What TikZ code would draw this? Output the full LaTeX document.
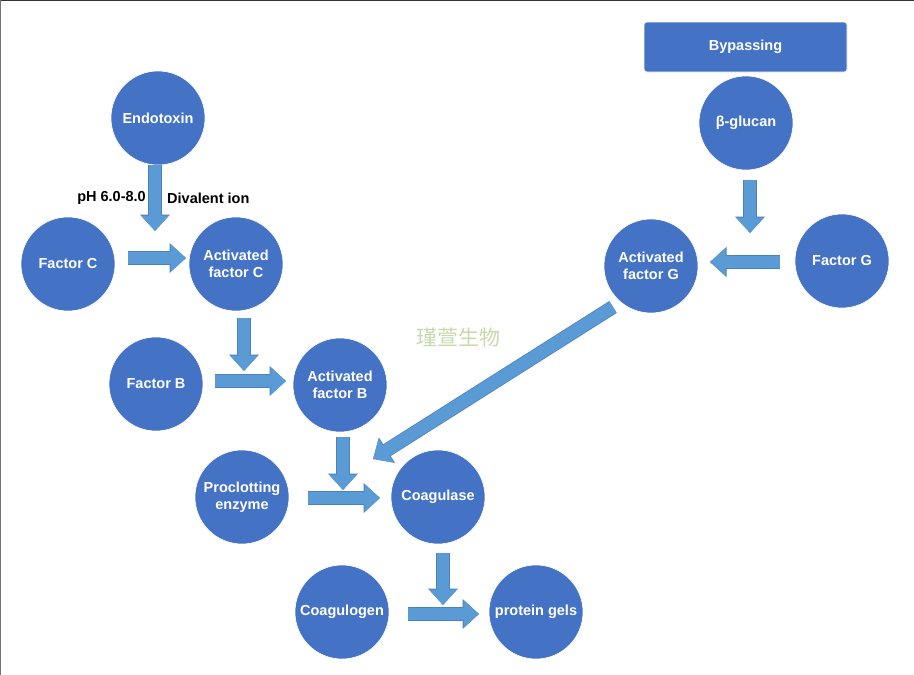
\documentclass[tikz,border=0pt]{standalone}
\usepackage{fontspec}
\setmainfont{Liberation Sans}
\newfontfamily\cjkfont{Noto Sans CJK SC}
\usetikzlibrary{arrows.meta}
\definecolor{circblue}{RGB}{68,114,196}
\definecolor{arrblue}{RGB}{91,155,213}
\definecolor{arredge}{RGB}{75,130,190}
\definecolor{wmgreen}{RGB}{198,218,172}
\begin{document}
\begin{tikzpicture}[x=1pt,y=-1pt,
  bub/.style={circle,fill=circblue,draw=white,line width=0.6pt,minimum size=94pt,inner sep=0pt,text=white,
    font=\bfseries\fontsize{14.5}{17}\selectfont,align=center},
  boxnode/.style={rectangle,rounded corners=3pt,fill=circblue,draw=white,line width=0.6pt,minimum width=203pt,minimum height=50pt,
    text=white,font=\bfseries\fontsize{14.5}{17}\selectfont},
  blkout/.style={line width=14pt,draw=arredge,-{Triangle[length=16.5pt,width=29pt]}},
  blk/.style={line width=12.5pt,draw=arrblue,-{Triangle[length=15.5pt,width=27pt]}},
  lbl/.style={text=black,font=\bfseries\fontsize{14.5}{17}\selectfont,inner sep=0pt}]
\useasboundingbox (0,0) rectangle (914,675);
\fill[white] (0,0) rectangle (914,675);
\draw[line width=2pt,black!80] (0,0) -- (914,0);
\draw[line width=2pt,black!55] (0,0) -- (0,675);

% nodes
\node[bub] (endo) at (158,118) {Endotoxin};
\node[bub] (fc) at (68,264) {Factor C};
\node[bub] (afc) at (236,264) {Activated\\factor C};
\node[bub] (fb) at (156,384) {Factor B};
\node[bub] (afb) at (340,385) {Activated\\factor B};
\node[bub] (pro) at (242,497) {Proclotting\\enzyme};
\node[bub] (coa) at (438,497) {Coagulase};
\node[bub] (cgn) at (342,612) {Coagulogen};
\node[bub] (gel) at (536,612) {protein gels};
\node[boxnode] (byp) at (745.5,47) {Bypassing};
\node[bub] (glu) at (746,123) {β-glucan};
\node[bub] (afg) at (651,266) {Activated\\factor G};
\node[bub] (fg) at (842,261) {Factor G};

\node[lbl,anchor=east] (ph) at (146,198) {pH 6.0-8.0};
\node[lbl,anchor=west] (div) at (167,198) {Divalent ion};
\node[text=wmgreen,font=\cjkfont\fontsize{21}{24}\selectfont,inner sep=0pt] (wm) at (458,338) {瑾萱生物};

% arrow endpoints
\coordinate (a1s) at (155,165); \coordinate (a1e) at (155,231);
\coordinate (a2s) at (128,258); \coordinate (a2e) at (186,258);
\coordinate (a3s) at (244,318); \coordinate (a3e) at (244,371);
\coordinate (a4s) at (215,381); \coordinate (a4e) at (286,381);
\coordinate (a5s) at (343,437); \coordinate (a5e) at (343,490);
\coordinate (a6s) at (308,498); \coordinate (a6e) at (380,498);
\coordinate (a7s) at (613,307); \coordinate (a7e) at (373,459);
\coordinate (a8s) at (443,553); \coordinate (a8e) at (443,605);
\coordinate (a9s) at (408,614); \coordinate (a9e) at (479,614);
\coordinate (a10s) at (750,180); \coordinate (a10e) at (750,233);
\coordinate (a11s) at (780,262); \coordinate (a11e) at (710,262);

\foreach \i in {1,...,11} {
  \draw[blkout] (a\i s) -- (a\i e);
  \draw[blk] (a\i s) -- (a\i e);
}
\end{tikzpicture}
\end{document}
